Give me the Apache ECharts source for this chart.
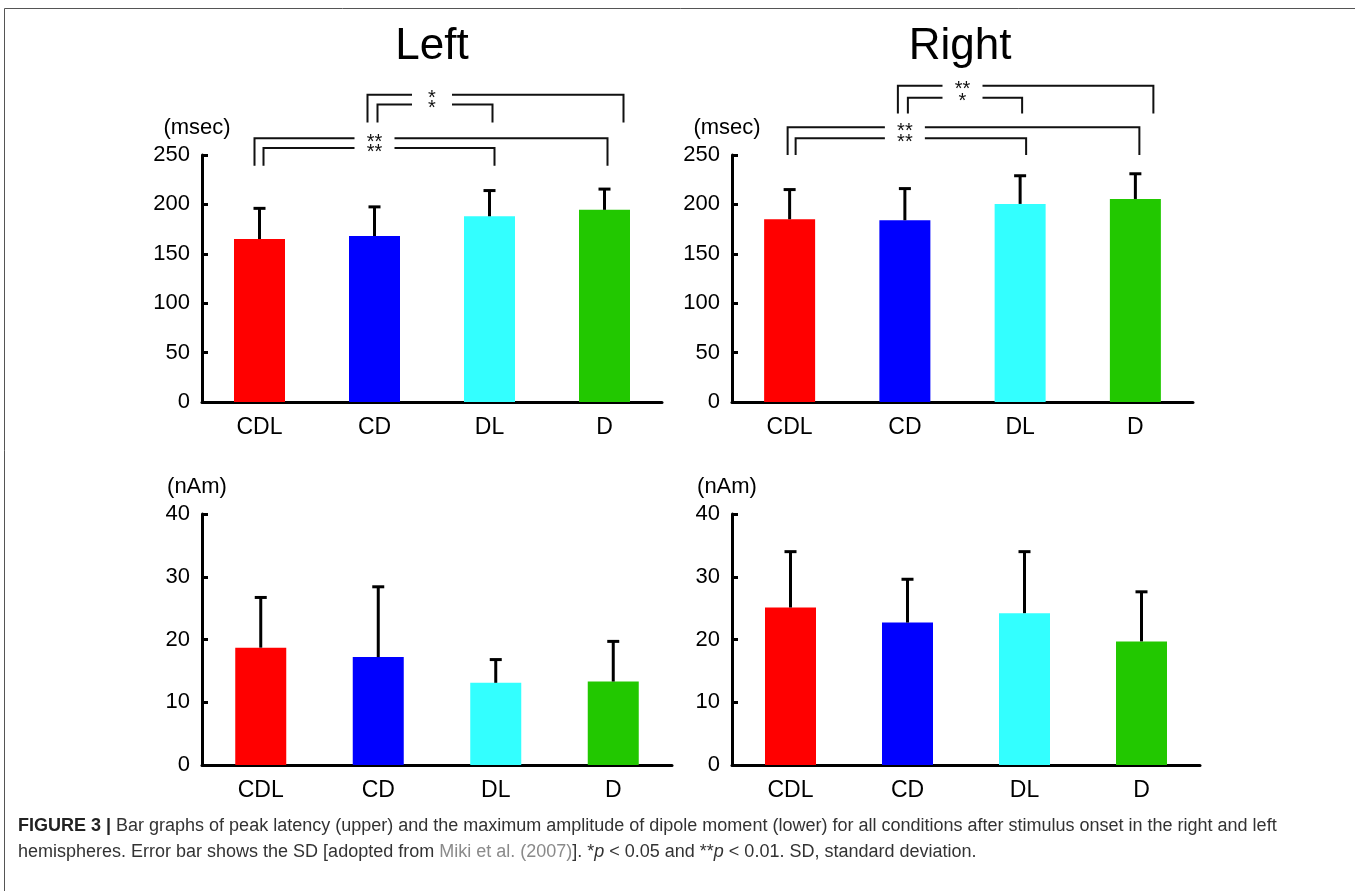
<!DOCTYPE html>
<html>
<head>
<meta charset="utf-8">
<script src="https://cdn.jsdelivr.net/npm/echarts@6/dist/echarts.min.js"></script>
<style>
  html, body { margin: 0; padding: 0; background: #fff; }
  #chart { width: 1355px; height: 891px; }
</style>
</head>
<body>
<div id="chart"></div>
<script>
// conditions and bar colours
const categories = ['CDL', 'CD', 'DL', 'D'];
const barColors = ['#ff0000', '#0000ff', '#33ffff', '#22c800'];

// peak latency (msec), mean and SD
const latencyLeftMean = [165, 168, 188, 194.5];
const latencyLeftSD = [31, 29.5, 26, 21];
const latencyRightMean = [185, 184, 200.5, 205.5];
const latencyRightSD = [30, 32, 28.5, 25.5];

// maximum dipole moment (nAm), mean and SD
const ampLeftMean = [18.7, 17.2, 13.1, 13.3];
const ampLeftSD = [8.0, 11.2, 3.7, 6.4];
const ampRightMean = [25.1, 22.7, 24.2, 19.7];
const ampRightSD = [8.9, 6.9, 9.8, 7.9];

// significance pairs [from, to, stars]
const sigLeft = [['CD', 'D', '*'], ['CD', 'DL', '*'], ['CDL', 'D', '**'], ['CDL', 'DL', '**']];
const sigRight = [['CD', 'D', '**'], ['CD', 'DL', '*'], ['CDL', 'D', '**'], ['CDL', 'DL', '**']];

const latencyTicks = { min: 0, max: 250, interval: 50 };
const ampTicks = { min: 0, max: 40, interval: 10 };

const FONT = '"Liberation Sans", Arial, sans-serif';

const chart = echarts.init(document.getElementById('chart'));

const grids = [
  { left: 202, top: 155, width: 460, height: 247 },
  { left: 732, top: 155, width: 461, height: 247 },
  { left: 202, top: 514, width: 470, height: 251 },
  { left: 732, top: 514, width: 468, height: 251 }
];

function xAxis(i) {
  return {
    type: 'category', gridIndex: i, data: categories,
    axisLine: { lineStyle: { color: '#000', width: 3 } },
    axisTick: { show: false },
    axisLabel: { color: '#000', fontSize: 23, fontFamily: FONT, margin: 14 }
  };
}

function yAxis(i, ticks, name) {
  return {
    type: 'value', gridIndex: i, min: ticks.min, max: ticks.max, interval: ticks.interval,
    name: name, nameLocation: 'end', nameGap: 16,
    nameTextStyle: { color: '#000', fontSize: 22, fontFamily: FONT, align: 'center', padding: [0, 10, 0, 0] },
    axisLine: { show: true, lineStyle: { color: '#000', width: 3 } },
    axisTick: { show: true, inside: true, length: 6, lineStyle: { color: '#000', width: 3 } },
    axisLabel: { color: '#000', fontSize: 22, fontFamily: FONT, margin: 12 },
    splitLine: { show: false }
  };
}

function barSeries(i, mean) {
  return {
    type: 'bar', xAxisIndex: i, yAxisIndex: i, barWidth: 51, animation: false,
    data: mean.map((v, k) => ({ value: v, itemStyle: { color: barColors[k] } }))
  };
}

function errorSeries(i, mean, sd) {
  return {
    type: 'custom', xAxisIndex: i, yAxisIndex: i, z: 5, animation: false,
    data: mean.map((v, k) => [k, v, sd[k]]),
    renderItem: function (params, api) {
      const x = api.value(0), m = api.value(1), s = api.value(2);
      const base = api.coord([x, m]);
      const top = api.coord([x, m + s]);
      const st = { stroke: '#000', lineWidth: 3 };
      return {
        type: 'group',
        children: [
          { type: 'line', shape: { x1: base[0], y1: base[1], x2: top[0], y2: top[1] }, style: st },
          { type: 'line', shape: { x1: top[0] - 6, y1: top[1], x2: top[0] + 6, y2: top[1] }, style: st }
        ]
      };
    }
  };
}

chart.setOption({
  backgroundColor: '#fff',
  animation: false,
  grid: grids,
  xAxis: [xAxis(0), xAxis(1), xAxis(2), xAxis(3)],
  yAxis: [
    yAxis(0, latencyTicks, '(msec)'),
    yAxis(1, latencyTicks, '(msec)'),
    yAxis(2, ampTicks, '(nAm)'),
    yAxis(3, ampTicks, '(nAm)')
  ],
  series: [
    barSeries(0, latencyLeftMean), errorSeries(0, latencyLeftMean, latencyLeftSD),
    barSeries(1, latencyRightMean), errorSeries(1, latencyRightMean, latencyRightSD),
    barSeries(2, ampLeftMean), errorSeries(2, ampLeftMean, ampLeftSD),
    barSeries(3, ampRightMean), errorSeries(3, ampRightMean, ampRightSD)
  ]
});

// bracket layout: top / foot level (axis units), x nudges (px), star position
const bracketLayoutLeft = [
  { top: 311, foot: 283, dx: [-7, 19], mid: ['CD', 'DL'] },
  { top: 301, foot: 283, dx: [3, 3], mid: ['CD', 'DL'] },
  { top: 267, foot: 239, dx: [-5, 3], mid: ['CD', 'CD'] },
  { top: 257, foot: 239, dx: [4, 5], mid: ['CD', 'CD'] }
];
const bracketLayoutRight = [
  { top: 320, foot: 292, dx: [-7, 18], mid: ['CD', 'DL'] },
  { top: 308, foot: 292, dx: [3, 2], mid: ['CD', 'DL'] },
  { top: 278, foot: 250, dx: [-2, 4], mid: ['CD', 'CD'] },
  { top: 267, foot: 250, dx: [6, 6], mid: ['CD', 'CD'] }
];

function brackets(g, sigs, layout) {
  const els = [];
  const px = c => chart.convertToPixel({ xAxisIndex: g }, c);
  const py = v => chart.convertToPixel({ yAxisIndex: g }, v);
  const st = { stroke: '#111', lineWidth: 2, fill: null };
  sigs.forEach((s, k) => {
    const L = layout[k];
    const xa = px(s[0]) + L.dx[0];
    const xb = px(s[1]) + L.dx[1];
    const yt = py(L.top), yf = py(L.foot);
    const lx = (px(L.mid[0]) + px(L.mid[1])) / 2;
    els.push({ type: 'polyline', shape: { points: [[xa, yf], [xa, yt], [lx - 20, yt]] }, style: st });
    els.push({ type: 'polyline', shape: { points: [[lx + 20, yt], [xb, yt], [xb, yf]] }, style: st });
    els.push({
      type: 'text', x: lx, y: yt + 4,
      style: { text: s[2], fontSize: 20, fontFamily: FONT, fill: '#111', align: 'center', verticalAlign: 'middle' }
    });
  });
  return els;
}

const captionStyle = {
  fontSize: 18, fontFamily: FONT,
  rich: {
    b: { fontSize: 18, fontFamily: FONT, fontWeight: 'bold', fill: '#222' },
    n: { fontSize: 18, fontFamily: FONT, fill: '#333' },
    g: { fontSize: 18, fontFamily: FONT, fill: '#8a8a8a' },
    i: { fontSize: 18, fontFamily: FONT, fontStyle: 'italic', fill: '#333' }
  }
};

chart.setOption({
  graphic: [
    { type: 'rect', shape: { x: 4.5, y: 8.5, width: 1400, height: 1000 }, style: { fill: null, stroke: '#555', lineWidth: 1 }, silent: true },
    { type: 'text', x: 432, y: 47, style: { text: 'Left', fontSize: 44, fontFamily: FONT, fill: '#000', align: 'center', verticalAlign: 'middle' } },
    { type: 'text', x: 960, y: 47, style: { text: 'Right', fontSize: 44, fontFamily: FONT, fill: '#000', align: 'center', verticalAlign: 'middle' } },
    ...brackets(0, sigLeft, bracketLayoutLeft),
    ...brackets(1, sigRight, bracketLayoutRight),
    {
      type: 'text', x: 18, y: 826,
      style: Object.assign({}, captionStyle, {
        verticalAlign: 'middle',
        text: '{b|FIGURE 3 |}{n| Bar graphs of peak latency (upper) and the maximum amplitude of dipole moment (lower) for all conditions after stimulus onset in the right and left}'
      })
    },
    {
      type: 'text', x: 18, y: 852,
      style: Object.assign({}, captionStyle, {
        verticalAlign: 'middle',
        text: '{n|hemispheres. Error bar shows the SD [adopted from }{g|Miki et al. (2007)}{n|]. *}{i|p}{n| < 0.05 and **}{i|p}{n| < 0.01. SD, standard deviation.}'
      })
    }
  ]
});
</script>
</body>
</html>
